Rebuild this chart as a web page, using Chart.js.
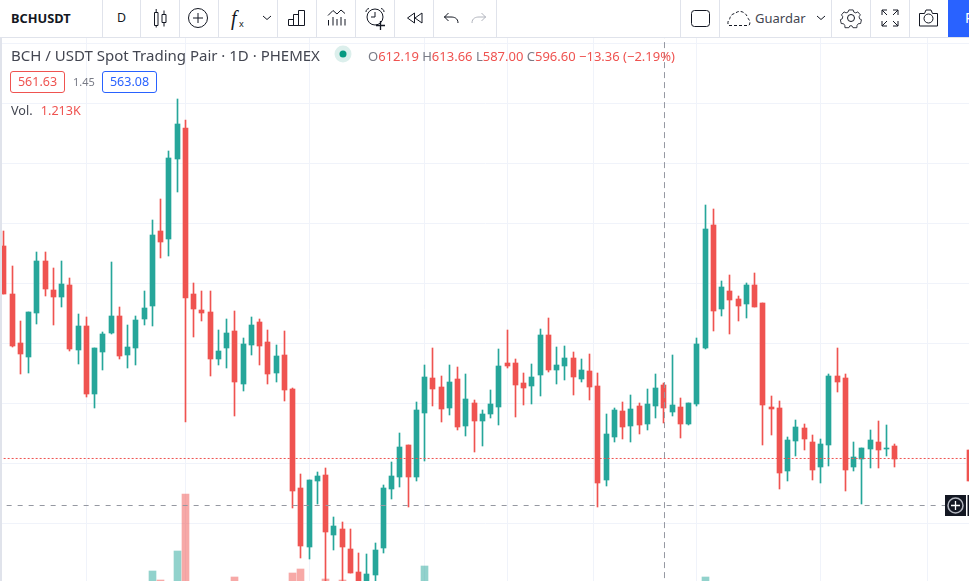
<!DOCTYPE html>
<html>
<head>
<meta charset="utf-8">
<title>BCHUSDT</title>
<script src="https://cdn.jsdelivr.net/npm/chart.js@4/dist/chart.umd.min.js"></script>
<style>
html, body { margin: 0; padding: 0; background: #fff; }
body { width: 969px; height: 581px; position: relative; overflow: hidden; font-family: "Noto Sans", sans-serif; color: #131722; }
#strip { position: absolute; left: 0; top: 0; width: 2px; height: 581px; background: #e0e3eb; }
#toolbar { position: absolute; left: 0; top: 0; width: 969px; height: 37px; border-bottom: 1px solid #e0e3eb; box-sizing: content-box; background: #fff; z-index: 3; }
.sep { position: absolute; top: 0; width: 1px; height: 37px; background: #e0e3eb; }
#icons { position: absolute; left: 0; top: 0; }
#publish { position: absolute; left: 948px; top: 0; width: 21px; height: 37px; background: #2962ff; color: #fff; font-size: 14px; line-height: 36px; padding-left: 17px; box-sizing: border-box; overflow: hidden; }
.t { position: absolute; white-space: nowrap; z-index: 4; }
#canvas-wrap { position: absolute; left: 2px; top: 38px; width: 967px; height: 543px; }
#title { left: 11px; top: 45px; font-size: 15px; line-height: 20px; color: #434651; }
#ohlc { left: 368px; top: 47px; font-size: 13px; line-height: 18px; color: #ef5350; }
#ohlc b { font-weight: 400; color: #787b86; }
.box { position: absolute; top: 71px; height: 22px; box-sizing: border-box; border-radius: 3px; border: 1px solid; font-size: 12.5px; line-height: 20px; text-align: center; z-index: 4; }
#bid { left: 10px; width: 55px; border-color: #ef5350; color: #ef5350; }
#ask { left: 102px; width: 55px; border-color: #2962ff; color: #2962ff; }
#spread { left: 73px; top: 74px; font-size: 11px; line-height: 16px; color: #787b86; }
#vol { left: 11px; top: 102px; font-size: 12.6px; line-height: 17px; color: #434651; }
#vol span { color: #ef5350; margin-left: 5px; }
#sym { left: 11px; top: 9px; font-size: 12.8px; line-height: 18px; font-weight: 700; color: #131722; }
#res { left: 117px; top: 9px; font-size: 12.4px; line-height: 18px; color: #131722; }
#save { left: 755px; top: 9px; font-size: 13px; line-height: 19px; color: #434651; }
#crossbtn { position: absolute; left: 945px; top: 495px; z-index: 4; }
</style>
</head>
<body>
<div id="strip"></div>
<div id="canvas-wrap"><canvas id="canvas1" width="967" height="543"></canvas></div>

<div id="toolbar">
  <svg id="icons" width="969" height="37" fill="none" stroke="#131722" stroke-width="1">
    <path d="M154.5 12.5h3.5v13h-3.500zM156.200 9v3.500M156.200 25.500v2M162 14.500h4v8h-4zM164 10.500v4M164 22.500v4"/>
    <circle cx="198" cy="18" r="9.500"/><path d="M198 13v10M193 18h10"/>
    <text x="231" y="25" font-family="Liberation Serif" font-style="italic" font-size="20" fill="#131722" stroke="none">f</text>
    <text x="239" y="27" font-family="Noto Sans" font-size="9" fill="#131722" stroke="none">x</text>
    <path d="M263 16l4 3.500 4-3.500"/>
    <path d="M288.500 19.500h5v6h-5zM293.500 14.500h5v11h-5zM298.500 10.500h6v15h-6z"/>
    <path d="M328 15.500l5-5 4 3.500 4-4 4 3.500"/>
    <path d="M328.500 20v5.500M333 17v8.500M337 19v6.500M341 17v8.500M345 19v6.500" />
    <circle cx="375" cy="17" r="8"/><path d="M375 12v5h-4M366 12c0-2 1-3 3-3.500M384 12c0-2-1-3-3-3.500"/>
    <path d="M376 25.500h9M380.500 21v9" stroke-width="1.300"/>
    <path d="M414.500 13l-7 5 7 5zM422 13l-7 5 7 5z"/>
    <path d="M458 23c0-5-4-6-7-6h-7M448.500 13l-4 4 4 4"/>
    <path d="M486 17h-7c-3 0-7 1-7 6M481.500 13l4 4-4 4" stroke="#b2b5be"/>
    <rect x="691.500" y="10.500" width="18" height="16" rx="3"/>
    <path d="M729 25.500h19c3 0 2-6 0-7-2-7-9-9-13-5-2 0-5 2-5 5-2 1-3 6-1 7z" stroke-dasharray="3 2"/>
    <path d="M817 16l4 3.500 4-3.500"/>
    <circle cx="851" cy="18" r="3.500"/>
    <path d="M848.500 9.500h5l.8 2.500 2.300 1 2.400-1.200 3 3.500-1.500 2.200.6 2.500 2.200 1-1 4.500-2.700.2-1.500 2-.2 2.700-4.600 0-1.200-2.200-2.400 0-1.200 2.200-4.600 0-.2-2.700-1.500-2-2.700-.2-1-4.500 2.200-1 .6-2.500-1.500-2.200 3-3.500 2.400 1.200 2.300-1z" transform="translate(851 18) scale(.85) translate(-851 -19)"/>
    <path d="M882 15v-5h5M882 10l5 5M898 15v-5h-5M898 10l-5 5M882 21v5h5M882 26l5-5M898 21v5h-5M898 26l-5-5"/>
    <path d="M919.500 13.500h5l1.500-3.500h5l1.500 3.500h5v12.500h-18z" stroke-linejoin="round"/>
    <circle cx="928.500" cy="18.500" r="4.500"/>
  </svg>
  <div id="publish">P</div>
</div>
<div class="t" id="sym">BCHUSDT</div>
<div class="t" id="res">D</div>
<div class="t" id="save">Guardar</div>

<div class="t" id="title">BCH / USDT Spot Trading Pair · 1D · PHEMEX</div>
<svg class="t" style="left:334px;top:45px" width="18" height="18"><circle cx="9" cy="9" r="8.500" fill="#dcefec"/><circle cx="9" cy="9" r="3.500" fill="#089981"/></svg>
<div class="t" id="ohlc"><b>O</b>612.19 <b>H</b>613.66 <b>L</b>587.00 <b>C</b>596.60 −13.36 (−2.19%)</div>
<div class="box" id="bid">561.63</div>
<div class="t" id="spread">1.45</div>
<div class="box" id="ask">563.08</div>
<div class="t" id="vol">Vol. <span>1.213K</span></div>

<svg id="crossbtn" width="24" height="22">
  <rect x="0" y="0" width="21" height="21" fill="#131722"/>
  <rect x="22.500" y="0" width="1.500" height="21" fill="#131722"/>
  <circle cx="10.500" cy="10.500" r="7.500" fill="none" stroke="#b2b5be" stroke-width="1.500"/>
  <path d="M10.500 6v9M6 10.500h9" stroke="#fff" stroke-width="1.300"/>
</svg>

<script>
// day 0 is the leftmost candle, days 109-116 are empty
var opens = [704.7,672.7,640.0,630.7,660.0,694.7,675.3,670.7,678.7,635.3,
  651.3,606.0,634.0,646.7,658.0,632.0,636.7,656.0,664.7,714.7,
  709.3,762.7,783.3,672.7,662.0,660.7,629.3,636.7,648.0,612.7,
  638.7,654.0,640.7,620.0,632.0,609.3,543.3,504.0,548.0,552.0,
  512.0,516.0,502.7,487.3,475.0,485.3,503.3,542.7,550.7,572.0,
  550.7,593.3,616.7,610.7,596.7,616.0,584.7,600.0,588.0,592.7,
  597.3,626.7,626.7,613.3,611.3,618.7,645.3,622.0,624.7,630.0,
  616.0,621.3,611.3,548.7,577.3,594.7,584.7,598.0,586.0,598.0,
  612.19,594.0,597.3,586.0,599.3,636.7,718.7,662.7,674.7,669.3,
  666.0,678.7,666.7,597.3,596.7,554.7,574.7,583.3,574.0,557.3,
  572.0,618.0,616.7,557.3,562.7,569.3,574.0,569.3,571.3,
  null,null,null,null,null,null,null,null,568.7];
var highs = [714.7,691.3,654.7,660.7,700.7,700.7,690.0,694.7,683.3,659.3,
  657.3,636.7,647.3,694.0,664.0,652.0,658.0,674.7,722.0,736.0,
  768.0,802.7,788.7,680.0,674.7,674.7,648.7,656.0,661.3,643.3,
  657.3,656.0,648.7,638.7,648.0,610.0,552.7,548.7,554.0,556.7,
  524.0,520.7,516.0,500.0,499.3,506.7,545.3,560.7,580.0,572.0,
  600.7,625.3,636.7,618.0,625.3,624.0,619.3,602.0,595.3,608.7,
  636.0,648.7,629.3,620.0,626.0,649.3,656.7,637.3,638.0,634.0,
  629.3,632.7,620.0,592.7,596.7,600.7,605.3,600.0,609.3,619.3,
  613.66,632.0,603.3,600.0,643.3,732.0,729.3,681.3,685.3,671.3,
  680.0,686.7,666.7,604.7,601.3,577.3,588.7,586.0,578.7,576.0,
  619.3,636.7,619.3,574.0,570.0,582.0,588.0,585.3,572.7,
  null,null,null,null,null,null,null,null,568.7];
var lows = [672.7,637.3,619.3,620.0,652.7,671.3,652.0,664.0,634.7,626.0,
  604.0,596.7,622.0,646.0,629.3,623.3,625.3,652.0,651.3,696.7,
  698.0,740.7,587.3,644.0,654.7,618.0,625.3,623.3,591.3,608.0,
  632.0,625.3,612.7,614.0,601.3,530.0,496.7,496.0,532.7,478.0,
  502.0,478.0,486.7,470.0,470.0,478.0,500.0,536.0,544.0,530.7,
  548.0,561.3,598.0,587.3,592.0,582.0,578.0,567.3,571.3,590.0,
  585.3,623.3,590.7,598.7,599.3,604.7,620.7,612.7,615.3,605.3,
  614.0,602.0,530.7,544.7,574.0,576.0,574.0,579.3,582.0,590.0,
  587.0,591.3,576.7,585.3,598.0,636.0,648.0,658.0,646.0,654.7,
  656.7,664.0,572.0,578.7,542.7,548.0,564.7,568.7,548.7,546.7,
  558.0,607.3,541.3,554.7,532.7,556.7,556.7,564.7,557.3,
  null,null,null,null,null,null,null,null,548.0];
var closes = [672.7,638.0,632.7,660.7,694.7,676.0,670.7,679.3,636.0,651.3,
  606.0,636.7,646.0,658.0,631.3,637.3,655.3,663.3,712.0,707.3,
  763.3,786.0,670.0,662.7,660.0,629.3,634.7,646.7,614.0,639.3,
  652.0,638.0,619.3,631.3,608.7,541.3,504.7,548.7,551.3,514.0,
  518.0,504.0,486.7,475.0,486.0,502.0,543.3,551.3,570.7,550.7,
  595.3,617.3,609.3,596.0,614.0,584.0,602.7,588.0,592.7,599.3,
  624.7,624.7,612.0,610.0,617.3,645.3,622.0,625.3,630.0,617.3,
  622.0,610.7,546.7,579.3,595.3,584.0,596.0,585.3,599.3,610.0,
  596.6,598.7,586.0,600.0,639.3,716.0,661.3,677.3,668.7,664.7,
  678.7,664.0,598.7,596.0,553.3,575.3,584.0,576.0,555.3,572.7,
  618.0,614.0,555.3,564.0,570.0,575.3,568.7,570.0,562.7,
  null,null,null,null,null,null,null,null,548.0];
// only the volume bars that reach into the picture, plus the hovered day (K)
var volumeDays = [18,19,21,22,28,35,36,39,41,51,80,85];
var volumes = [2.0,1.55,3.0,5.85,1.7,1.9,2.1,1.6,1.55,2.25,1.213,1.7];

var gridPrices = [520,560,600,640,680,720,760,800,840];
var gridDays = [16,28,46,56,66,77,91,107,117];
var askPrice = 563.08;
var crossDay = 80.07;
var crossPrice = 531.73;

var upColor = '#26a69a';
var downColor = '#ef5350';
var upVolColor = 'rgba(38,166,154,0.5)';
var downVolColor = 'rgba(239,83,80,0.5)';
var gridColor = '#f0f3fa';
var crossColor = '#9598a1';

var canvas1;
var myChart1;

// candles sit on whole pixels in the original, so snap the bars after layout
var snapBars = {
    id: 'snapBars',
    afterDatasetsUpdate: function (chart) {
        chart.getSortedVisibleDatasetMetas().forEach(function (meta) {
            if (meta.type !== 'bar') {
                return;
            }
            meta.data.forEach(function (el) {
                el.x = Math.floor(el.x) + 0.5;
                el.y = Math.round(el.y);
                el.base = Math.round(el.base);
            });
        });
    }
};

function start() {
    var seps = [102,140,179,218,277,316,355,394,433,496,680,719,831,870,909];
    var toolbar = document.getElementById('toolbar');
    for (let i = 0; i < seps.length; i++) {
        var d = document.createElement('div');
        d.className = 'sep';
        d.style.left = seps[i] + 'px';
        toolbar.appendChild(d);
    }
    canvas1 = document.getElementById('canvas1');
    setchart();
}

function setchart() {
    var bodies = [];
    var wicks = [];
    var colors = [];
    for (let i = 0; i < opens.length; i++) {
        if (opens[i] === null) {
            continue;
        }
        bodies.push({x: i, y: [Math.min(opens[i], closes[i]), Math.max(opens[i], closes[i])]});
        wicks.push({x: i, y: [lows[i], highs[i]]});
        colors.push(closes[i] >= opens[i] ? upColor : downColor);
    }
    var volBars = volumeDays.map(function (day, i) { return {x: day, y: volumes[i]}; });
    var volColors = volumeDays.map(function (day) {
        return closes[day] >= opens[day] ? upVolColor : downVolColor;
    });

    myChart1 = new Chart(canvas1, {
        type: 'bar',
        plugins: [snapBars],
        data: {
            datasets: [{
                label: 'Vol',
                yAxisID: 'vol',
                data: volBars,
                backgroundColor: volColors,
                barThickness: 7,
                grouped: false,
                order: 4
            }, {
                label: 'wicks',
                data: wicks,
                backgroundColor: colors,
                barThickness: 1,
                grouped: false,
                order: 3
            }, {
                label: 'bodies',
                data: bodies,
                backgroundColor: colors,
                barThickness: 5,
                grouped: false,
                order: 2
            }, {
                type: 'line',
                label: 'ask',
                data: [{x: -1, y: askPrice}, {x: 118, y: askPrice}],
                borderColor: downColor,
                borderWidth: 1,
                borderDash: [2, 2],
                pointRadius: 0,
                order: 1
            }, {
                type: 'line',
                label: 'crossH',
                data: [{x: -1, y: crossPrice}, {x: 114.1, y: crossPrice}],
                borderColor: crossColor,
                borderWidth: 1,
                borderDash: [5, 6],
                pointRadius: 0,
                order: 0
            }, {
                type: 'line',
                label: 'crossV',
                data: [{x: crossDay, y: 470}, {x: crossDay, y: 850}],
                borderColor: crossColor,
                borderWidth: 1,
                borderDash: [6, 4],
                pointRadius: 0,
                order: 0
            }]
        },
        options: {
            responsive: false,
            animation: false,
            layout: {padding: 0},
            plugins: {
                legend: {display: false},
                tooltip: {enabled: false}
            },
            scales: {
                x: {
                    type: 'linear',
                    min: -0.23,
                    max: 116.98,
                    offset: false,
                    afterBuildTicks: function (axis) {
                        axis.ticks = gridDays.map(function (v) { return {value: v}; });
                    },
                    ticks: {display: false, autoSkip: false},
                    border: {display: false},
                    grid: {color: gridColor, drawTicks: false}
                },
                y: {
                    min: 481.4,
                    max: 843.4,
                    afterBuildTicks: function (axis) {
                        axis.ticks = gridPrices.map(function (v) { return {value: v}; });
                    },
                    ticks: {display: false, autoSkip: false},
                    border: {display: false},
                    grid: {color: gridColor, drawTicks: false}
                },
                vol: {
                    display: false,
                    min: 1.5,
                    max: 28.65
                }
            }
        }
    });
}

start();
</script>
</body>
</html>
